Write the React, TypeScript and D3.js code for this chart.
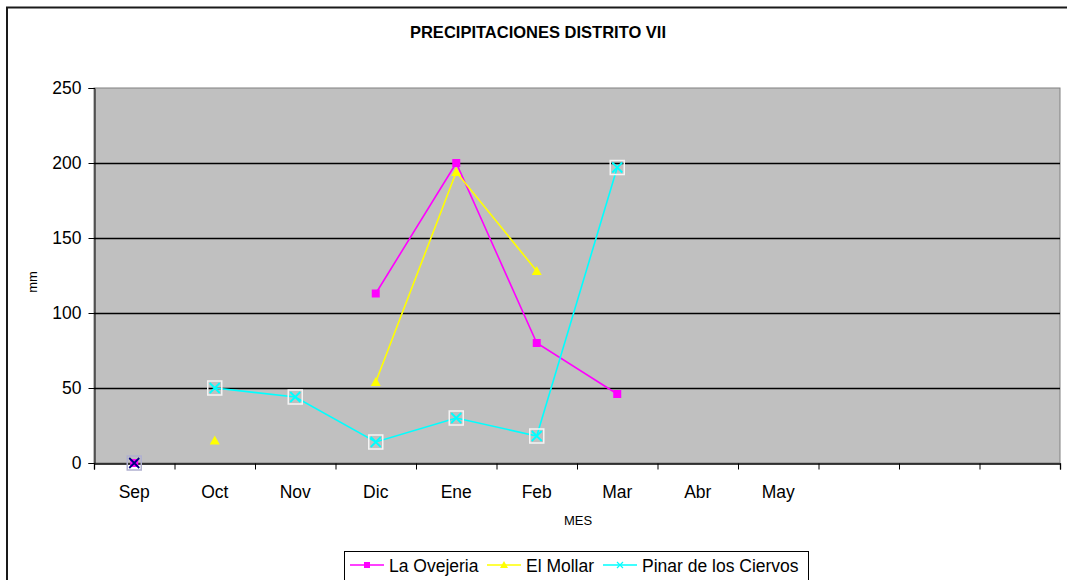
import { useEffect, useRef } from 'react';
import * as d3 from 'd3';

const months = ['Sep', 'Oct', 'Nov', 'Dic', 'Ene', 'Feb', 'Mar', 'Abr', 'May', '', '', ''];
const yTicks = [0, 50, 100, 150, 200, 250];

const laOvejeria: (number | null)[] = [0, null, null, 113, 200, 80, 46, null, null, null, null, null];
const elMollar: (number | null)[] = [null, 15, null, 54, 194, 128, null, null, null, null, null, null];
const pinarCiervos: (number | null)[] = [null, 50, 44, 14, 30, 18, 197, null, null, null, null, null];
// dark marker sitting at Sep on top of the square
const sepMarker: (number | null)[] = [0, null, null, null, null, null, null, null, null, null, null, null];

const W = 1067;
const H = 580;
const FONT = 'Arial, "Liberation Sans", sans-serif';

export default function App() {
  const svgRef = useRef<SVGSVGElement>(null);

  useEffect(() => {
    const svg = d3.select(svgRef.current);
    svg.selectAll('*').remove();

    const left = 94;
    const right = 1060;
    const top = 88;
    const bottom = 463;

    const x = d3.scaleBand<number>().domain(d3.range(months.length)).range([left, right]);
    const y = d3.scaleLinear().domain([0, 250]).range([bottom, top]);
    const cx = (i: number) => x(i)! + x.bandwidth() / 2;

    // outer frame (only left/top visible, the rest runs off the page)
    svg.append('path')
      .attr('d', `M7,${H + 10}V7.5H${W + 10}`)
      .attr('fill', 'none').attr('stroke', '#1a1a1a').attr('stroke-width', 2);

    svg.append('text')
      .attr('x', 538).attr('y', 38)
      .attr('text-anchor', 'middle')
      .attr('font-family', FONT).attr('font-size', 16.5).attr('font-weight', 'bold')
      .text('PRECIPITACIONES DISTRITO VII');

    // plot area
    svg.append('rect')
      .attr('x', left).attr('y', top).attr('width', right - left).attr('height', bottom - top)
      .attr('fill', '#c0c0c0').attr('stroke', '#808080').attr('stroke-width', 1);

    svg.append('g')
      .selectAll('line')
      .data(yTicks.filter(d => d > 0 && d < 250))
      .join('line')
      .attr('x1', left).attr('x2', right)
      .attr('y1', d => y(d) + 0.5).attr('y2', d => y(d) + 0.5)
      .attr('stroke', '#000').attr('stroke-width', 1.3);

    // axes
    const yAxis = d3.axisLeft(y).tickValues(yTicks).tickSize(6).tickPadding(7);
    const gy = svg.append('g').attr('transform', `translate(${left + 0.5},0)`).call(yAxis);
    gy.select('.domain').attr('stroke', '#000');
    gy.selectAll('.tick line').attr('stroke', '#000');
    gy.selectAll('.tick text')
      .attr('font-family', FONT).attr('font-size', 17.5).attr('fill', '#000');

    const xAxis = d3.axisBottom(d3.scaleLinear().domain([0, months.length]).range([left, right]))
      .tickValues(d3.range(months.length + 1)).tickSize(6).tickFormat(() => '');
    const gx = svg.append('g').attr('transform', `translate(0,${bottom + 0.5})`).call(xAxis);
    gx.select('.domain').attr('stroke', '#000').attr('stroke-width', 1.3);
    gx.selectAll('.tick line').attr('stroke', '#000');

    svg.append('g')
      .selectAll('text')
      .data(months)
      .join('text')
      .attr('x', (_, i) => cx(i)).attr('y', 498)
      .attr('text-anchor', 'middle')
      .attr('font-family', FONT).attr('font-size', 17.5)
      .text(d => d);

    svg.append('text')
      .attr('x', 578).attr('y', 525).attr('text-anchor', 'middle')
      .attr('font-family', FONT).attr('font-size', 13).text('MES');

    svg.append('text')
      .attr('transform', 'translate(37,282) rotate(-90)').attr('text-anchor', 'middle')
      .attr('font-family', FONT).attr('font-size', 13).text('mm');

    const line = d3.line<number | null>()
      .defined(d => d != null)
      .x((_, i) => cx(i))
      .y(d => y(d as number));

    const drawSeries = (data: (number | null)[], color: string, marker: string) => {
      const g = svg.append('g');
      g.append('path').attr('d', line(data)).attr('fill', 'none')
        .attr('stroke', color).attr('stroke-width', 1.6);
      const pts = data.map((v, i) => ({ v, i })).filter(p => p.v != null);
      pts.forEach(p => {
        const px = cx(p.i);
        const py = y(p.v as number);
        if (marker === 'square') {
          g.append('rect').attr('x', px - 4).attr('y', py - 4).attr('width', 8).attr('height', 8).attr('fill', color);
        } else if (marker === 'triangle') {
          g.append('path').attr('d', `M${px},${py - 5}L${px + 5},${py + 4}L${px - 5},${py + 4}Z`).attr('fill', color);
        } else {
          g.append('rect').attr('x', px - 7).attr('y', py - 7).attr('width', 14).attr('height', 14)
            .attr('fill', 'none').attr('stroke', marker === 'navy' ? '#b0b0d0' : '#f4f4f4').attr('stroke-width', 1.5);
          g.append('path').attr('d', `M${px - 5},${py - 5}L${px + 5},${py + 5}M${px + 5},${py - 5}L${px - 5},${py + 5}`)
            .attr('stroke', color).attr('stroke-width', 1.8);
        }
      });
    };

    drawSeries(laOvejeria, '#ff00ff', 'square');
    drawSeries(elMollar, '#ffff00', 'triangle');
    drawSeries(pinarCiervos, '#00ffff', 'cross');
    drawSeries(sepMarker, '#000080', 'navy');

    // legend
    const lg = svg.append('g');
    lg.append('rect').attr('x', 344.5).attr('y', 551.5).attr('width', 464).attr('height', 40)
      .attr('fill', '#fff').attr('stroke', '#000');
    const items = [
      { name: 'La Ovejeria', color: '#ff00ff', marker: 'square', x0: 350 },
      { name: 'El Mollar', color: '#ffff00', marker: 'triangle', x0: 487 },
      { name: 'Pinar de los Ciervos', color: '#00ffff', marker: 'cross', x0: 603 },
    ];
    const ly = 565;
    items.forEach(it => {
      lg.append('line').attr('x1', it.x0).attr('x2', it.x0 + 34).attr('y1', ly).attr('y2', ly)
        .attr('stroke', it.color).attr('stroke-width', 1.5);
      const mx = it.x0 + 17;
      if (it.marker === 'square') {
        lg.append('rect').attr('x', mx - 3).attr('y', ly - 3).attr('width', 6).attr('height', 6).attr('fill', it.color);
      } else if (it.marker === 'triangle') {
        lg.append('path').attr('d', `M${mx},${ly - 4}L${mx + 4},${ly + 3}L${mx - 4},${ly + 3}Z`).attr('fill', it.color);
      } else {
        lg.append('path').attr('d', `M${mx - 3},${ly - 3}L${mx + 3},${ly + 3}M${mx + 3},${ly - 3}L${mx - 3},${ly + 3}`)
          .attr('stroke', it.color).attr('stroke-width', 1.2);
      }
      lg.append('text').attr('x', it.x0 + 39).attr('y', ly + 6.5)
        .attr('font-family', FONT).attr('font-size', 17.5).text(it.name);
    });
  }, []);

  return (
    <div style={{ position: 'absolute', left: 0, top: 0, width: W, height: H, overflow: 'hidden' }}>
      <svg ref={svgRef} width={W} height={H} style={{ display: 'block' }} />
    </div>
  );
}
